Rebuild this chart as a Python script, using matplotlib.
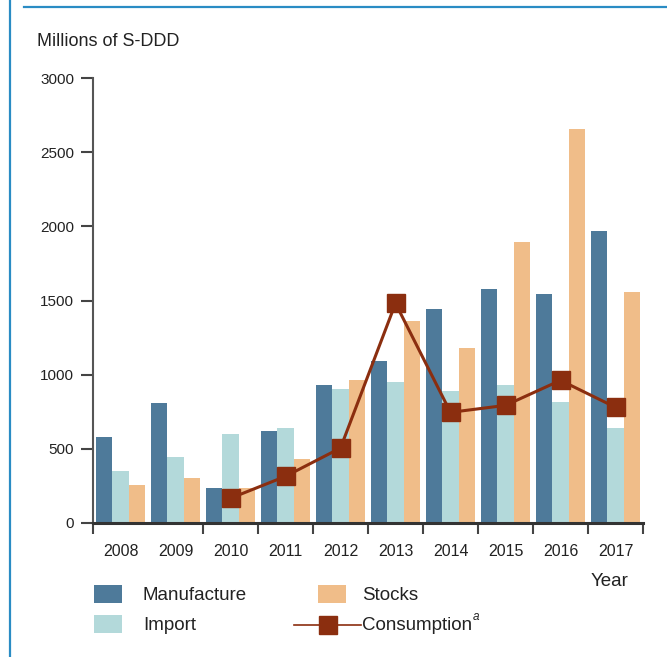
import matplotlib
matplotlib.use('Agg')
import matplotlib.pyplot as plt
from matplotlib.patches import Rectangle
from matplotlib.lines import Line2D
import numpy as np

years = ['2008', '2009', '2010', '2011', '2012', '2013', '2014', '2015', '2016', '2017']
manufacture = [578, 808, 233, 619, 929, 1092, 1443, 1578, 1544, 1969]
imports = [349, 443, 599, 639, 901, 950, 890, 927, 815, 638]
stocks = [254, 302, 233, 430, 963, 1362, 1180, 1894, 2658, 1557]
cons_years = ['2010', '2011', '2012', '2013', '2014', '2015', '2016', '2017']
consumption = [165, 313, 504, 1481, 745, 792, 961, 779]
yticks = [0, 500, 1000, 1500, 2000, 2500, 3000]

C_MAN = '#4E7A9A'
C_IMP = '#B3D9DA'
C_STO = '#F0BD89'
C_CON = '#8B2E0F'
C_FRAME = '#2A8CC4'
C_TXT = '#222222'

plt.rcParams['font.family'] = ['Liberation Sans', 'DejaVu Sans']

W, H = 667, 657
fig = plt.figure(figsize=(W / 100, H / 100), dpi=100)

def fx(x):
    return x / W

def fy(y):
    return 1 - y / H

ax = fig.add_axes([fx(93), fy(522.7), fx(643) - fx(93), fy(78.3) - fy(522.7)])

x = np.arange(len(years))
bw = 0.3
ax.bar(x - bw, manufacture, bw, color=C_MAN, linewidth=0)
ax.bar(x, imports, bw, color=C_IMP, linewidth=0)
ax.bar(x + bw, stocks, bw, color=C_STO, linewidth=0)

cx = [years.index(y) for y in cons_years]
ax.plot(cx, consumption, color=C_CON, linewidth=2.2, marker='s', markersize=12.5,
        markerfacecolor=C_CON, markeredgecolor=C_CON, zorder=5)

ax.set_xlim(-0.5, len(years) - 0.5)
ax.set_ylim(0, 3000)
ax.set_yticks(yticks)
ax.set_yticklabels([str(v) for v in yticks], fontsize=11, color=C_TXT)
ax.set_xticks(x)
ax.set_xticklabels(years, fontsize=11.5, color=C_TXT)
bounds = [-0.5] + [i + 0.5 for i in range(1, len(years))]
ax.set_xticks(bounds, minor=True)
ax.tick_params(axis='x', which='major', length=0, pad=15)
ax.tick_params(axis='x', which='minor', length=8, width=1.5, color='#444444', direction='out')
ax.tick_params(axis='y', which='major', length=8.6, width=1.5, color='#444444', pad=5)

for s in ['top', 'right']:
    ax.spines[s].set_visible(False)
ax.spines['left'].set_color('#555555')
ax.spines['left'].set_linewidth(1.5)
ax.spines['bottom'].set_color('#333333')
ax.spines['bottom'].set_linewidth(2.2)

# Title and axis label
fig.text(fx(37), fy(42), 'Millions of S-DDD', fontsize=13, color=C_TXT, va='center', ha='left')
fig.text(fx(610), fy(582), 'Year', fontsize=13.5, color=C_TXT, va='center', ha='center')

# Frame lines
fig.add_artist(Line2D([fx(9.5), fx(9.5)], [0, 1], color=C_FRAME, linewidth=1.6))
fig.add_artist(Line2D([fx(24), 1], [fy(7), fy(7)], color=C_FRAME, linewidth=1.6))

# Legend
def patch(x0, y0, x1, y1, color):
    fig.add_artist(Rectangle((fx(x0), fy(y1)), fx(x1) - fx(x0), fy(y0) - fy(y1),
                             transform=fig.transFigure, color=color, linewidth=0))

patch(94, 585, 122, 603, C_MAN)
patch(94, 615, 122, 633, C_IMP)
patch(318, 585, 346, 603, C_STO)
fig.text(fx(143), fy(595), 'Manufacture', fontsize=13.5, color=C_TXT, va='center', ha='left')
fig.text(fx(143), fy(625), 'Import', fontsize=13.5, color=C_TXT, va='center', ha='left')
fig.text(fx(362), fy(595), 'Stocks', fontsize=13.5, color=C_TXT, va='center', ha='left')
fig.add_artist(Line2D([fx(294), fx(361)], [fy(625), fy(625)], color=C_CON, linewidth=1.2))
fig.add_artist(Line2D([fx(328)], [fy(625)], color=C_CON, marker='s', markersize=12.5,
                      markerfacecolor=C_CON, markeredgecolor=C_CON, linestyle='none'))
t = fig.text(fx(362), fy(625), 'Consumption', fontsize=13.5, color=C_TXT, va='center', ha='left')
fig.canvas.draw()
bb = t.get_window_extent()
fig.text((bb.x1 + 1) / W, fy(617), 'a', fontsize=8.5, style='italic', color=C_TXT,
         va='center', ha='left')

fig.savefig('out.png', dpi=100)
